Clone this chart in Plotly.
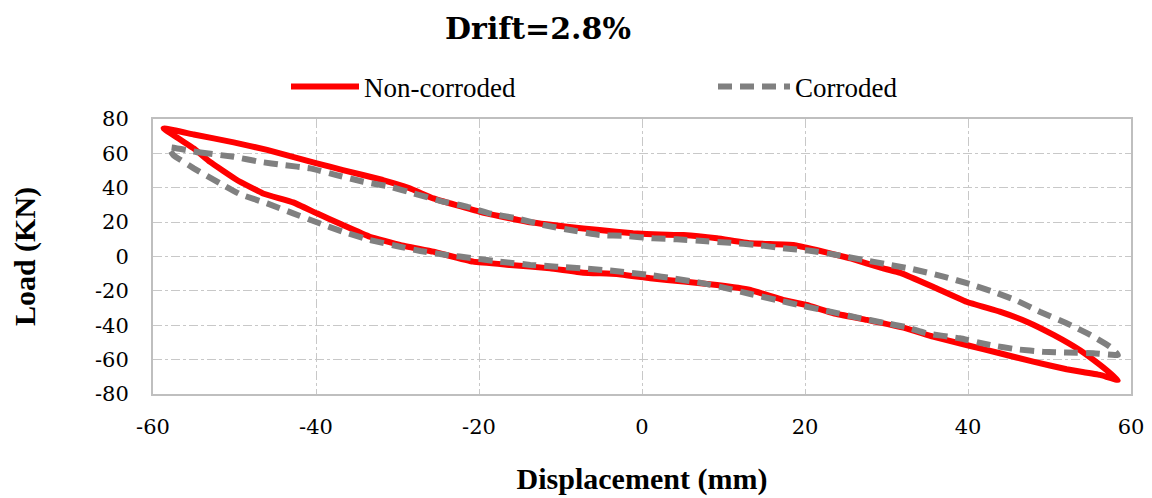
import plotly.graph_objects as go

# Non-corroded loop (closed)
nc_x = [-58.7, -55, -50.1, -46, -39.9, -36.7, -31.8, -28.5, -25.6, -19.9, -14.1, -9.2, -5.2, -1.1, 2.2, 5.1,
        9.2, 13.3, 18.6, 21.4, 25.5, 29.6, 31.7, 35.7, 39.8, 43.9, 47.2, 50.5, 53.7, 56.2, 58.4,
        56.2, 52.1, 48, 43.9, 39.8, 35.7, 32.3, 27.6, 23.5, 20.2, 17.3, 13.3, 9.2, 5.1, 1, -3.1,
        -7.2, -11.3, -16.2, -20.7, -25.6, -29.7, -33.4, -36.7, -39.9, -42.8, -46.5, -49.7, -53, -55, -58.7]
nc_y = [74.5, 71, 66.4, 62, 54.2, 50.3, 44.5, 39.7, 33.8, 26, 20.2, 17.3, 15.4, 13.5, 12.8, 12.5,
        10.6, 7.7, 6.7, 3.8, -1, -6.9, -9.5, -17.6, -26.3, -32.1, -37.9, -45.6, -54.4, -63.1, -71.8,
        -68.9, -65.6, -61.2, -56.3, -51.5, -46.6, -41.7, -36.9, -33, -28.2, -25.3, -19.5, -16.6, -14.6, -12.7, -10.2,
        -9.4, -6.9, -4.9, -3, 2.8, 6.7, 11.5, 18.3, 25.1, 31.5, 36.7, 44.5, 55, 62.9, 74.5]

# Corroded loop (closed)
c_x = [-58.1, -54.4, -50.1, -46.9, -44, -40.7, -37.5, -34.2, -30.9, -28, -24.8, -21.5, -18.7, -15.4, -12.1,
       -8.8, -5.2, -1.9, 1.4, 4.3, 7.5, 10.8, 14.1, 17.3, 20.6, 23.9, 27.2, 30.4, 32.9, 37, 40.2, 43.1,
       46, 48.8, 52.1, 55, 57.4, 58.4,
       55.4, 52.1, 49.2, 46, 42.7, 39, 34.9, 32.5, 29.6, 26.3, 23.1, 19.8, 16.5, 13.3, 10.4, 7.1, 3.8, 1,
       -3.9, -7.2, -10.5, -13.7, -17.4, -20.7, -24, -27.2, -29.7, -33.4, -36.7, -39.9, -42.8, -46, -49.3,
       -51.8, -55, -57.5, -58.1]
c_y = [63.5, 60.6, 58, 55.1, 53.2, 51.3, 47.4, 43.5, 40.6, 36.7, 32.4, 29, 25.1, 22.2, 18.3,
       15.4, 12.5, 11.9, 10.6, 10, 9, 8, 6.7, 4.8, 3.4, 0.9, -2, -4.9, -7, -11.7, -16, -20.5,
       -25.7, -32.1, -38.8, -45.6, -52.4, -57.3,
       -56.3, -55.9, -55.4, -54, -51.5, -47.6, -44.7, -41.2, -38.5, -35.4, -32.1, -28.8, -25.3, -21.8, -18.5, -15.2, -12.7, -10.8,
       -8.2, -6.9, -5.9, -4.9, -3, -1, 0.9, 3.2, 5.7, 9.6, 14.4, 19.9, 25.1, 30.9, 36.2,
       42.6, 51.3, 59, 63.5]

x_ticks = [-60, -40, -20, 0, 20, 40, 60]
x_tick_labels = ["-60", "-40", "-20", "0", "20", "40", "60"]
y_ticks = [80, 60, 40, 20, 0, -20, -40, -60, -80]
y_tick_labels = ["80", "60", "40", "20", "0", "-20", "-40", "-60", "-80"]

fig = go.Figure()
fig.add_trace(go.Scatter(x=nc_x, y=nc_y, mode="lines", name="Non-corroded", legend="legend",
                         line=dict(color="#FF0000", width=6, shape="spline", smoothing=0.3)))
fig.add_trace(go.Scatter(x=c_x, y=c_y, mode="lines", name="Corroded", legend="legend2",
                         line=dict(color="#808080", width=6, dash="14px,8px", shape="spline", smoothing=0.3)))

tick_font = dict(family="DejaVu Serif", size=21, color="#000000")
title_font = dict(family="Liberation Serif", size=30, color="#000000", weight="bold")
legend_font = dict(family="Liberation Serif", size=27, color="#000000")

fig.update_layout(
    width=1152, height=498,
    paper_bgcolor="white", plot_bgcolor="white",
    margin=dict(l=153, r=21, t=119, b=104, autoexpand=False),
    title=dict(text="<b>Drift=2.8%</b>", x=538/1152, xanchor="center", y=1-28/498, yanchor="middle",
               font=dict(family="DejaVu Serif", size=30, color="#000000")),
    showlegend=True,
    legend=dict(orientation="h", xref="container", yref="container", x=286/1152, xanchor="left",
                y=1-87/498, yanchor="middle", itemwidth=68, font=legend_font,
                bgcolor="rgba(0,0,0,0)"),
    legend2=dict(orientation="h", xref="container", yref="container", x=713/1152, xanchor="left",
                 y=1-87/498, yanchor="middle", itemwidth=72, font=legend_font,
                 bgcolor="rgba(0,0,0,0)"),
    xaxis=dict(range=[-60, 60], tickvals=x_ticks, ticktext=x_tick_labels, tickfont=tick_font,
               showgrid=True, gridcolor="#C8C8C8", griddash="dashdot", gridwidth=1,
               zeroline=False, showline=True, linecolor="#BFBFBF", linewidth=2, mirror=True,
               ticks="", ticklabelstandoff=13,
               title=dict(text="Displacement (mm)", font=title_font, standoff=30)),
    yaxis=dict(range=[-80, 80], tickvals=y_ticks, ticktext=y_tick_labels, tickfont=tick_font,
               showgrid=True, gridcolor="#C8C8C8", griddash="dashdot", gridwidth=1,
               zeroline=False, showline=True, linecolor="#BFBFBF", linewidth=2, mirror=True,
               ticks="", ticklabelstandoff=18,
               title=dict(text="Load (KN)", font=title_font, standoff=50)),
)

fig.write_html("out.html")
